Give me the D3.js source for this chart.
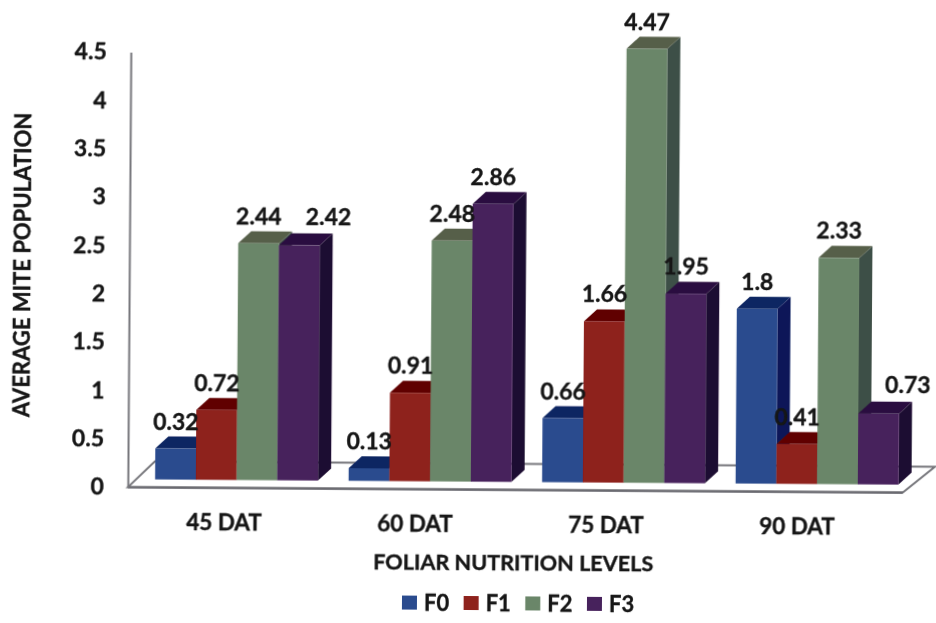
<!DOCTYPE html>
<html><head><meta charset="utf-8">
<script src="https://cdnjs.cloudflare.com/ajax/libs/d3/7.8.5/d3.min.js"></script>
<style>html,body{margin:0;background:#fff}svg{display:block}text{font-family:Lato,"Open Sans",sans-serif;font-weight:700;fill:#141414;stroke:#141414;stroke-width:.35px}</style>
</head><body><svg id="c" width="936" height="623"></svg>
<script>
const categories = ["45 DAT","60 DAT","75 DAT","90 DAT"];
const seriesNames = ["F0","F1","F2","F3"];
const F0 = [0.32,0.13,0.66,1.8];
const F1 = [0.72,0.91,1.66,0.41];
const F2 = [2.44,2.48,4.47,2.33];
const F3 = [2.42,2.86,1.95,0.73];
const yTicks = [0,0.5,1,1.5,2,2.5,3,3.5,4,4.5];
const seriesValues = [F0,F1,F2,F3];
const front = {F0:"#2b4b8e",F1:"#8e201d",F2:"#6b8669",F3:"#47215c"};
const top_  = {F0:"#0f2562",F1:"#600606",F2:"#565f49",F3:"#2b103f"};
const side  = {F0:"#0a1658",F1:"#3c0a0c",F2:"#3e4f47",F3:"#1d0a30"};
const dx=13, dy=12, lift=8;

const svg=d3.select("#c");
const defs=svg.append("defs");
defs.append("filter").attr("id","soft").append("feGaussianBlur").attr("stdDeviation",0.45);
const root=svg.append("g").attr("transform","rotate(0.4 468 311)").attr("filter","url(#soft)");

const y=d3.scaleLinear().domain([0,4.5]).range([489.6,54.6]);
const yBar=d3.scaleLinear().domain([0,4.5]).range([489.6,52.6]);
const x0=d3.scaleBand().domain(categories).range([141,915]).paddingInner(0.158).paddingOuter(0.079);
const x1=d3.scaleBand().domain(seriesNames).range([0,x0.bandwidth()]);
const xLabel=d3.scaleBand().domain(categories).range([130,894]);

// floor
const y0=y(0);
root.append("path")
 .attr("d",`M129,${y0} L156,${y0-26} L936,${y0-26} L904,${y0} Z`)
 .attr("fill","#fff").attr("stroke","#77777c").attr("stroke-width",2);
root.append("line").attr("x1",129).attr("x2",904).attr("y1",y0).attr("y2",y0).attr("stroke","#6a6a70").attr("stroke-width",2.4);

// y axis
const yAxis=root.append("g").attr("transform","translate(129,0)")
 .call(d3.axisLeft(y).tickValues(yTicks).tickSize(0).tickPadding(24).tickFormat(d3.format("~g")));
yAxis.select(".domain").attr("stroke","#77777c").attr("stroke-width",2);
yAxis.selectAll("text").attr("font-size",23).style("font-family",null);

// x axis labels
const xAxis=root.append("g").attr("transform",`translate(0,${y0+26})`)
 .call(d3.axisBottom(xLabel).tickSize(0).tickPadding(0));
xAxis.select(".domain").remove();
xAxis.selectAll("text").attr("font-size",22.5).attr("dy","0.71em").style("font-family",null);

// bars
const bars=root.append("g").attr("transform",`translate(0,${-lift})`);
categories.forEach((c,i)=>{
  seriesNames.forEach((s,j)=>{
    const v=seriesValues[j][i], L=x0(c)+x1(s), w=x1.bandwidth(), T=yBar(v), B=yBar(0);
    const g=bars.append("g");
    g.append("path").attr("d",`M${L+w},${T} l${dx},${-dy} L${L+w+dx},${B-dy} L${L+w},${B} Z`).attr("fill",side[s]);
    g.append("path").attr("d",`M${L},${T} l${dx},${-dy} h${w} l${-dx},${dy} Z`).attr("fill",top_[s]);
    g.append("rect").attr("x",L).attr("y",T).attr("width",w).attr("height",B-T).attr("fill",front[s]);
  });
});

// value labels: the F3 labels of the first and last group sit beside their bars
const beside=new Set(["45 DAT|F3","90 DAT|F3"]);
categories.forEach((c,i)=>{
  seriesNames.forEach((s,j)=>{
    const v=seriesValues[j][i];
    const far=beside.has(c+"|"+s);
    root.append("text")
      .attr("x",x0(c)+x1(s)+x1.bandwidth()/2+(far?29:0))
      .attr("y",yBar(v)-lift-19+(far?-2:0))
      .attr("text-anchor","middle").attr("font-size",23)
      .text(d3.format("~g")(v));
  });
});

// titles
root.append("text").attr("transform","translate(30,268) rotate(-90)").attr("text-anchor","middle").attr("font-size",22).text("AVERAGE MITE POPULATION");
root.append("text").attr("x",515).attr("y",570).attr("text-anchor","middle").attr("font-size",21.6).text("FOLIAR NUTRITION LEVELS");

// legend
const legendX=d3.scalePoint().domain(seriesNames).range([404,589]);
const lg=root.append("g");
seriesNames.forEach(s=>{
  lg.append("rect").attr("x",legendX(s)).attr("y",596).attr("width",15).attr("height",14).attr("fill",front[s]);
  lg.append("text").attr("x",legendX(s)+22).attr("y",611).attr("font-size",22).text(s);
});
</script></body></html>
